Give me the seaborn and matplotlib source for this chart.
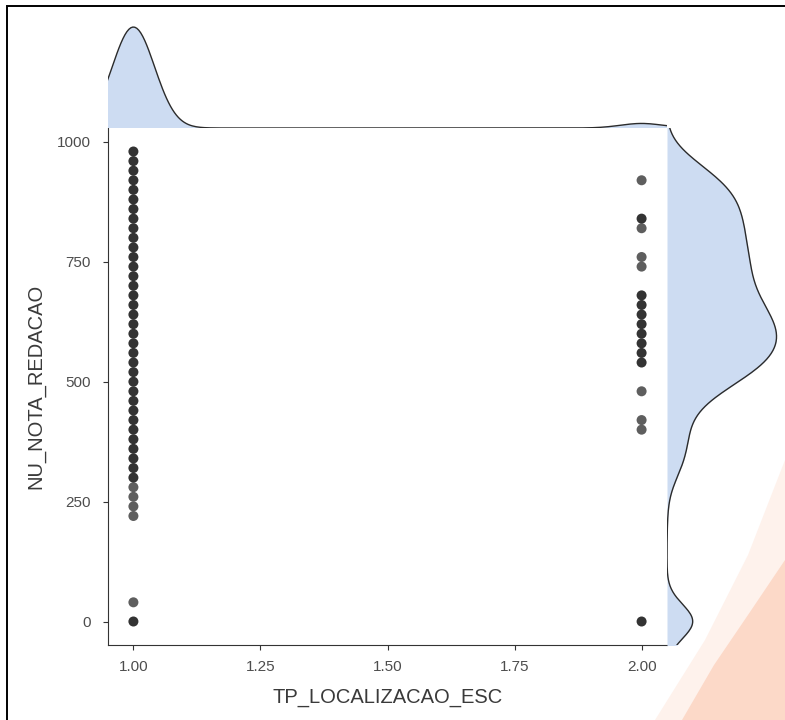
import numpy as np
import pandas as pd
import matplotlib
matplotlib.use("Agg")
import matplotlib.pyplot as plt
import seaborn as sns
from matplotlib.patches import Rectangle, Polygon

# ---------------- data ----------------
loc1_notas = [0, 40, 220, 240, 260, 280, 300, 320, 340, 360, 380, 400, 420, 440,
              460, 480, 500, 520, 540, 560, 580, 600, 620, 640, 660, 680, 700,
              720, 740, 760, 780, 800, 820, 840, 860, 880, 900, 920, 940, 960, 980]
loc1_counts = [106, 1, 1, 1, 1, 1, 12, 16, 19, 21, 22, 21, 21, 27,
               37, 54, 72, 90, 96, 101, 102, 103, 99, 94, 87, 83, 86,
               84, 83, 82, 81, 79, 77, 70, 75, 72, 67, 56, 44, 26, 15]
loc2_notas = [0, 400, 420, 480, 540, 560, 580, 600, 620, 640, 660, 680,
              740, 760, 820, 840, 920]
loc2_counts = [8, 1, 1, 1, 8, 10, 12, 12, 12, 10, 10, 8, 1, 1, 1, 6, 1]

x_ticks = [1.00, 1.25, 1.50, 1.75, 2.00]
x_ticklabels = ["1.00", "1.25", "1.50", "1.75", "2.00"]
y_ticks = [0, 250, 500, 750, 1000]
x_title = "TP_LOCALIZACAO_ESC"
y_title = "NU_NOTA_REDACAO"

df = pd.DataFrame({
    "TP_LOCALIZACAO_ESC": [1] * len(loc1_notas) + [2] * len(loc2_notas),
    "NU_NOTA_REDACAO": loc1_notas + loc2_notas,
    "n": loc1_counts + loc2_counts,
})
df["repetido"] = df["n"] > 1

# ---------------- style ----------------
sns.set_theme(style="white")
plt.rcParams["font.family"] = ["Liberation Sans", "DejaVu Sans"]

W, H = 785, 720
fig = plt.figure(figsize=(W / 100, H / 100), dpi=100)
fig.patch.set_facecolor("white")

def fx(px):
    return px / W

def fy(py):
    return 1 - py / H

L, R, T, B = 108, 667, 128, 645
ax = fig.add_axes([fx(L), fy(B), fx(R) - fx(L), fy(T) - fy(B)])
ax_top = fig.add_axes([fx(L), fy(T), fx(R) - fx(L), fy(22) - fy(T)])
ax_right = fig.add_axes([fx(R), fy(B), fx(782) - fx(R), fy(T) - fy(B)])
for a in (ax, ax_top, ax_right):
    a.set_facecolor("none")

# watermark shape (decorative, bottom right)
fig.add_artist(Polygon([(fx(655), fy(720)), (fx(705), fy(640)), (fx(748), fy(555)),
                        (fx(785), fy(460)), (fx(785), fy(720))],
                       closed=True, transform=fig.transFigure, facecolor="#fef2ec",
                       edgecolor="none", zorder=-2))
fig.add_artist(Polygon([(fx(682), fy(720)), (fx(714), fy(665)), (fx(750), fy(612)),
                        (fx(785), fy(560)), (fx(785), fy(720))],
                       closed=True, transform=fig.transFigure, facecolor="#fcd9c8",
                       edgecolor="none", zorder=-1))

# scatter
sns.scatterplot(data=df, x="TP_LOCALIZACAO_ESC", y="NU_NOTA_REDACAO", hue="repetido",
                palette={True: "#333333", False: "#5e5e5e"}, s=52, linewidth=0,
                legend=False, ax=ax, zorder=3)
ax.set_xlim(0.95, 2.05)
ax.set_ylim(-49, 1029)
ax.set_xticks(x_ticks)
ax.set_xticklabels(x_ticklabels)
ax.set_yticks(y_ticks)
ax.set_xlabel(x_title, fontsize=14.5, color="#3a3a3a", labelpad=10)
ax.set_ylabel(y_title, fontsize=14.5, color="#3a3a3a", labelpad=8)
ax.tick_params(axis="both", which="major", length=3.6, width=0.8, color="#333333",
               labelsize=11, labelcolor="#4d4d4d", left=True, bottom=True)
ax.tick_params(axis="x", pad=7)
ax.tick_params(axis="y", pad=9)
sns.despine(ax=ax)
for s in ("left", "bottom"):
    ax.spines[s].set_color("#333333")
    ax.spines[s].set_linewidth(0.8)

# marginal densities
FILL = "#cddcf2"
LINE = "#2b2b2b"
BW_X = 0.041
BW_Y = 35.0

def wstd(v, w):
    v = np.asarray(v, float); w = np.asarray(w, float)
    m = np.average(v, weights=w)
    return np.sqrt(np.average((v - m) ** 2, weights=w))

fac_x = BW_X / wstd(df["TP_LOCALIZACAO_ESC"], df["n"])
fac_y = BW_Y / wstd(df["NU_NOTA_REDACAO"], df["n"])

sns.kdeplot(data=df, x="TP_LOCALIZACAO_ESC", weights="n", bw_method=fac_x, fill=True,
            color=FILL, alpha=1, linewidth=0, ax=ax_top, gridsize=400)
sns.kdeplot(data=df, x="TP_LOCALIZACAO_ESC", weights="n", bw_method=fac_x, fill=False,
            color=LINE, linewidth=1.0, ax=ax_top, gridsize=400)
ax_top.set_xlim(0.95, 2.05)
ax_top.set_ylim(bottom=0)
ax_top.axis("off")

sns.kdeplot(data=df, y="NU_NOTA_REDACAO", weights="n", bw_method=fac_y, fill=True,
            color=FILL, alpha=1, linewidth=0, ax=ax_right, gridsize=400)
sns.kdeplot(data=df, y="NU_NOTA_REDACAO", weights="n", bw_method=fac_y, fill=False,
            color=LINE, linewidth=1.0, ax=ax_right, gridsize=400)
ax_right.set_ylim(-49, 1029)
ax_right.set_xlim(left=0)
ax_right.axis("off")

# page frame
fig.add_artist(Rectangle((fx(7), -0.1), 1.2, fy(6) + 0.1, transform=fig.transFigure,
                         fill=False, edgecolor="black", linewidth=1.4))

fig.savefig("out.png", dpi=100, facecolor="white")
